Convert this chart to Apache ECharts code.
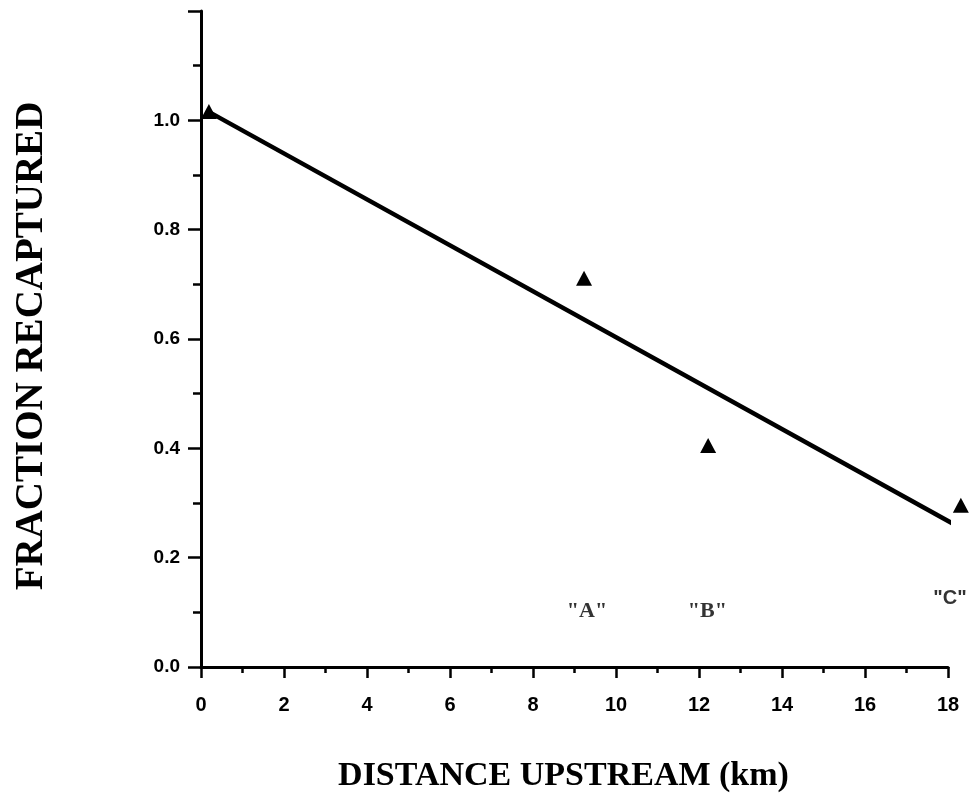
<!DOCTYPE html>
<html>
<head>
<meta charset="utf-8">
<style>
  html, body { margin: 0; padding: 0; background: #fff; }
  #chart { width: 972px; height: 798px; }
</style>
<script src="https://cdn.jsdelivr.net/npm/echarts@6/dist/echarts.min.js"></script>
</head>
<body>
<div id="chart"></div>
<script>
// Observed recapture fractions by distance upstream (km)
const distances = [0.19, 9.23, 12.22, 18.31];
const fractions = [1.016, 0.711, 0.405, 0.296];

// Fitted regression line end points
const fitX = [0.2, 18.22];
const fitY = [1.015, 0.258];

// Site labels placed below the points
const siteNames = ['"A"', '"B"', '"C"'];
const siteX = [9.3, 12.2, 18.05];
const siteY = [0.102, 0.102, 0.125];

const chart = echarts.init(document.getElementById('chart'), null, { renderer: 'canvas' });

const serif = '"Liberation Serif", "DejaVu Serif", serif';
const sans = '"Liberation Sans", Arial, sans-serif';

const siteData = siteNames.map((n, i) => ({
  name: n,
  value: [siteX[i], siteY[i]],
  label: i === 2
    ? { fontFamily: sans, fontWeight: 'bold', fontSize: 20 }
    : { fontFamily: serif, fontWeight: 'bold', fontSize: 22 }
}));

chart.setOption({
  backgroundColor: '#fff',
  animation: false,
  grid: { left: 201, right: 24, top: 11, bottom: 127, containLabel: false },
  xAxis: {
    type: 'value',
    min: 0, max: 18, interval: 2,
    name: 'DISTANCE UPSTREAM (km)',
    nameLocation: 'middle',
    nameGap: 92,
    nameTextStyle: { fontFamily: serif, fontWeight: 'bold', fontSize: 34, color: '#000', padding: [0, 22, 0, 0] },
    axisLine: { show: true, lineStyle: { color: '#000', width: 3 } },
    axisTick: { show: true, inside: false, length: 11, lineStyle: { color: '#000', width: 2.5 } },
    minorTick: { show: true, splitNumber: 2, length: 6, lineStyle: { color: '#000', width: 2.5 } },
    axisLabel: { margin: 28, fontFamily: sans, fontWeight: 'bold', fontSize: 20, color: '#000' },
    splitLine: { show: false }
  },
  yAxis: {
    type: 'value',
    min: 0, max: 1.2, interval: 0.2,
    name: 'FRACTION RECAPTURED',
    nameLocation: 'middle',
    nameGap: 150,
    nameRotate: 90,
    nameTextStyle: { fontFamily: serif, fontWeight: 'bold', fontSize: 39, color: '#000', padding: [0, 14, 0, 0] },
    axisLine: { show: true, onZero: false, lineStyle: { color: '#000', width: 3 } },
    axisTick: { show: true, inside: false, length: 13, lineStyle: { color: '#000', width: 2.5 } },
    minorTick: { show: true, splitNumber: 2, length: 8, lineStyle: { color: '#000', width: 2.5 } },
    axisLabel: {
      margin: 21, fontFamily: sans, fontWeight: 'bold', fontSize: 19, color: '#000',
      formatter: v => (v > 1.1 ? '' : v.toFixed(1))
    },
    splitLine: { show: false }
  },
  series: [
    {
      type: 'line',
      data: fitX.map((x, i) => [x, fitY[i]]),
      showSymbol: false,
      symbol: 'none',
      clip: false,
      lineStyle: { color: '#000', width: 4.5 },
      z: 2
    },
    {
      type: 'scatter',
      data: distances.map((x, i) => [x, fractions[i]]),
      symbol: 'triangle',
      symbolSize: [16, 15],
      clip: false,
      itemStyle: { color: '#000', opacity: 1 },
      emphasis: { disabled: true },
      z: 3
    },
    {
      type: 'scatter',
      data: siteData,
      symbolSize: 0,
      clip: false,
      label: { show: true, position: 'inside', color: '#000', formatter: p => p.name },
      z: 4
    }
  ]
});
</script>
</body>
</html>
